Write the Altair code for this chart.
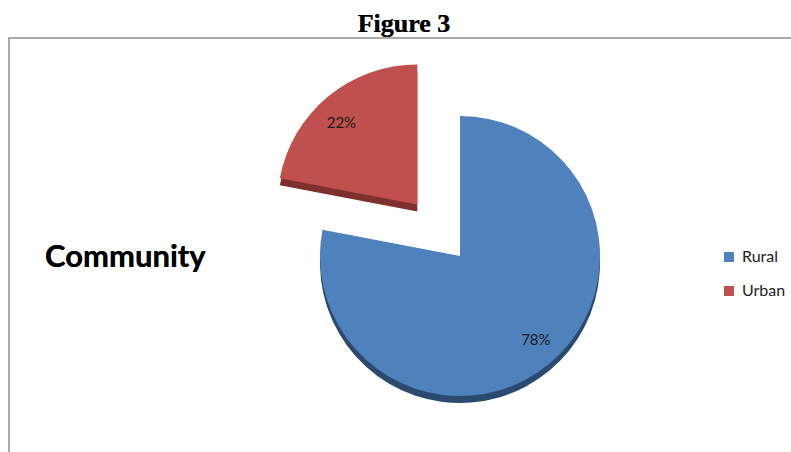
import altair as alt
import pandas as pd

# ---- data ----
categories = ["Rural", "Urban"]
values = [78, 22]
order = [0, 1]

face_colors = ["#4F81BD", "#C0504D"]
side_colors = ["#2C4A70", "#7E302E"]

CX, CY, R = 460, 256, 140
EXPLODE_PX = 67
DEPTH = 7
LABEL_R = 119

df = pd.DataFrame({"category": categories, "value": values, "order": order})

base = (
    alt.Chart(df)
    .transform_joinaggregate(total="sum(value)")
    .transform_window(cum="sum(value)", frame=[None, 0], sort=[alt.SortField("order")])
    .transform_calculate(t0="(datum.cum - datum.value) / datum.total * 2 * PI")
    .transform_calculate(t1="datum.cum / datum.total * 2 * PI")
    .transform_calculate(mid="(datum.t0 + datum.t1) / 2")
    .transform_calculate(ex=f"datum.category == 'Urban' ? {EXPLODE_PX} : 0")
    .transform_calculate(cx=f"{CX} + datum.ex * sin(datum.mid)")
    .transform_calculate(cy=f"{CY} - datum.ex * cos(datum.mid)")
    .transform_calculate(cy_side=f"datum.cy + {DEPTH}")
    .transform_calculate(lx=f"datum.cx + {LABEL_R} * sin(datum.mid)")
    .transform_calculate(ly=f"datum.cy - {LABEL_R} * 0.9 * cos(datum.mid) + 1")
    .transform_calculate(label="datum.value + '%'")
)

side = base.mark_arc(radius=R).encode(
    x=alt.X("cx:Q", scale=None),
    y=alt.Y("cy_side:Q", scale=None),
    theta=alt.Theta("t0:Q", scale=None),
    theta2=alt.Theta2("t1:Q"),
    color=alt.Color("category:N", scale=alt.Scale(domain=categories, range=side_colors), legend=None),
)

face = base.mark_arc(radius=R).encode(
    x=alt.X("cx:Q", scale=None),
    y=alt.Y("cy:Q", scale=None),
    theta=alt.Theta("t0:Q", scale=None),
    theta2=alt.Theta2("t1:Q"),
    color=alt.Color(
        "category:N",
        scale=alt.Scale(domain=categories, range=face_colors),
        legend=alt.Legend(
            orient="none",
            legendX=721,
            legendY=249,
            title=None,
            symbolType="square",
            symbolSize=100,
            symbolStrokeWidth=0,
            labelFont="Lato",
            labelFontSize=16,
            labelColor="#222222",
            rowPadding=18,
            labelOffset=5,
        ),
    ),
)

labels = base.mark_text(font="Lato", fontSize=15, color="#1a1a1a", align="center", baseline="middle").encode(
    x=alt.X("lx:Q", scale=None),
    y=alt.Y("ly:Q", scale=None),
    text="label:N",
)

border = alt.Chart(df).mark_rect(fill="transparent", stroke="#aaaaaa", strokeWidth=2).encode(
    x=alt.value(9), x2=alt.value(900), y=alt.value(38), y2=alt.value(700)
)

title = alt.Chart(df).mark_text(
    text="Figure 3", font="Liberation Serif", fontSize=26, fontWeight="bold", color="black",
    align="center", baseline="alphabetic",
).encode(x=alt.value(404), y=alt.value(32))

community = alt.Chart(df).mark_text(
    text="Community", font="Lato", fontSize=31, fontWeight="bold", color="black",
    align="left", baseline="alphabetic",
).encode(x=alt.value(45), y=alt.value(267))

chart = (
    alt.layer(border, title, community, side, face, labels)
    .resolve_scale(color="independent")
    .properties(width=791, height=452, autosize=alt.AutoSizeParams(type="none"), padding=0)
    .configure_view(stroke=None)
)

chart.save("out.html", embed_options={"renderer": "svg", "actions": False})
